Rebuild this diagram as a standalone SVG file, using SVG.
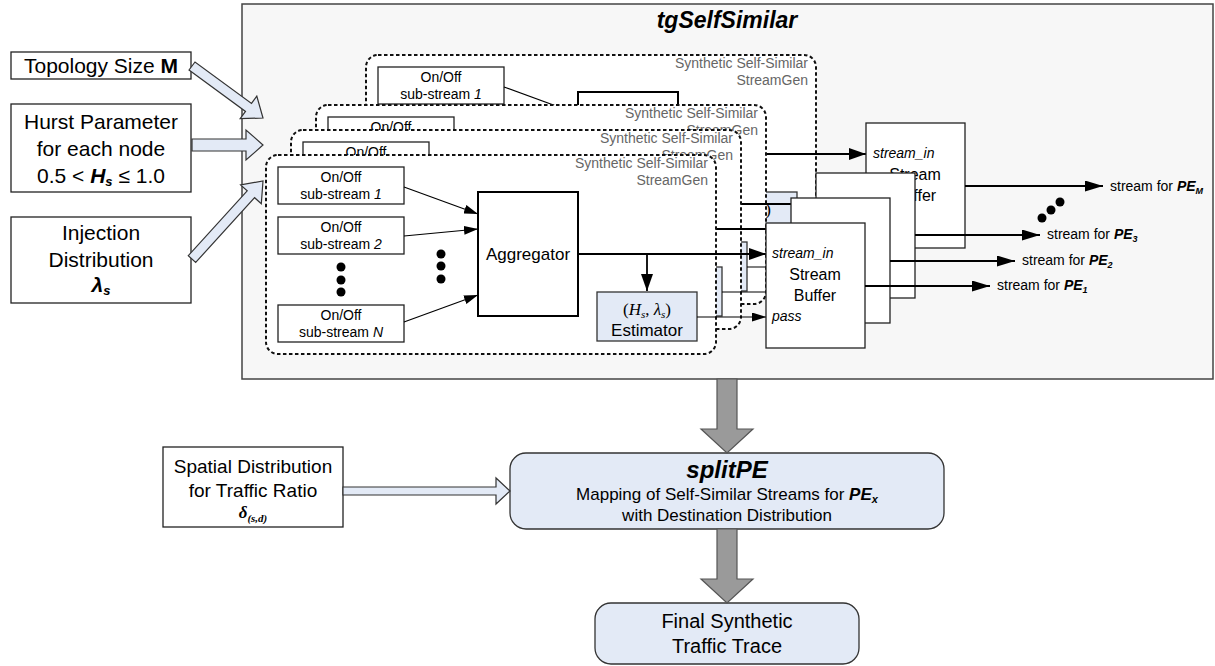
<svg xmlns="http://www.w3.org/2000/svg" width="1215" height="666" viewBox="0 0 1215 666">
<defs>
<style>
text { font-family: "Liberation Sans", Arial, sans-serif; fill:#000; }
.in { fill:#fff; stroke:#222; stroke-width:1.3; }
.big { font-size:21px; text-anchor:middle; }
.hollow { fill:#e3eaf6; stroke:#333; stroke-width:1.2; }
.gray { fill:#9a9a9a; stroke:#555; stroke-width:1.2; }
.dash { fill:#fff; stroke:#111; stroke-width:2; stroke-dasharray:3.5 2.5; }
.sg { font-size:14px; fill:#666; text-anchor:end; }
.sub { fill:#fff; stroke:#222; stroke-width:1.3; }
.st { font-size:14px; text-anchor:middle; }
.agg { fill:#fff; stroke:#000; stroke-width:2; }
.est { fill:#e3eaf6; stroke:#333; stroke-width:1.3; }
.ln { stroke:#000; stroke-width:1.2; fill:none; }
.lnb { stroke:#000; stroke-width:1.8; fill:none; }
.buf { fill:#fff; stroke:#222; stroke-width:1.3; }
.it { font-style:italic; }
.bi { font-weight:bold; font-style:italic; }
.lbl { font-size:14px; }
.node { fill:#e3eaf6; stroke:#333; stroke-width:1.3; }
.serif { font-family:"Liberation Serif", "Times New Roman", serif; }
</style>
<marker id="ahM" viewBox="0 0 14 9" markerWidth="14" markerHeight="9" refX="14" refY="4.5" orient="auto" markerUnits="userSpaceOnUse"><path d="M0,0 L14,4.5 L0,9 z" fill="#000"/></marker>
<marker id="ahL" viewBox="0 0 17 12" markerWidth="17" markerHeight="12" refX="17" refY="6" orient="auto" markerUnits="userSpaceOnUse"><path d="M0,0 L17,6 L0,12 z" fill="#000"/></marker>
<marker id="ahO" viewBox="0 0 18 11" markerWidth="18" markerHeight="11" refX="18" refY="5.5" orient="auto" markerUnits="userSpaceOnUse"><path d="M0,0 L18,5.5 L0,11 z" fill="#000"/></marker>
<g id="gen">
<rect class="dash" x="266" y="155" width="450" height="199" rx="12"/>
<text class="sg" x="708" y="168">Synthetic Self-Similar</text>
<text class="sg" x="708" y="185">StreamGen</text>
<rect class="sub" x="278" y="167" width="126" height="37"/>
<text class="st" x="341" y="182">On/Off</text>
<text class="st" x="341" y="199">sub-stream <tspan class="it">1</tspan></text>
<rect class="sub" x="278" y="217" width="126" height="37"/>
<text class="st" x="341" y="232">On/Off</text>
<text class="st" x="341" y="249">sub-stream <tspan class="it">2</tspan></text>
<circle cx="341" cy="267" r="4.5"/>
<circle cx="341" cy="280" r="4.5"/>
<circle cx="341" cy="292" r="4.5"/>
<rect class="sub" x="278" y="305" width="126" height="37"/>
<text class="st" x="341" y="320">On/Off</text>
<text class="st" x="341" y="337">sub-stream <tspan class="it">N</tspan></text>
<circle cx="441" cy="254" r="4.5"/>
<circle cx="441" cy="266" r="4.5"/>
<circle cx="441" cy="279" r="4.5"/>
<line class="ln" x1="404" y1="187" x2="478" y2="214" marker-end="url(#ahM)"/>
<line class="ln" x1="404" y1="236" x2="478" y2="229" marker-end="url(#ahM)"/>
<line class="ln" x1="404" y1="322" x2="478" y2="295" marker-end="url(#ahM)"/>
<rect class="agg" x="478" y="192" width="100" height="124"/>
<text x="528" y="260" font-size="17" text-anchor="middle">Aggregator</text>
<line class="lnb" x1="578" y1="254" x2="766" y2="254" marker-end="url(#ahL)"/>
<line class="lnb" x1="647" y1="254" x2="647" y2="291" marker-end="url(#ahL)"/>
<rect class="est" x="597" y="292" width="100" height="49"/>
<text class="serif" x="647" y="315" font-size="17" text-anchor="middle">(<tspan font-style="italic">H</tspan><tspan font-style="italic" font-size="11" dy="3">s</tspan><tspan dy="-3">, </tspan><tspan font-style="italic">λ</tspan><tspan font-style="italic" font-size="11" dy="3">s</tspan><tspan dy="-3">)</tspan></text>
<text x="647" y="336" font-size="17" text-anchor="middle">Estimator</text>
<line class="ln" x1="697" y1="317" x2="766" y2="317" marker-end="url(#ahM)"/>
</g>
</defs>

<g id="tgSelfSimilar">
<rect x="242" y="4" width="971" height="375" fill="#f7f7f7" stroke="#444" stroke-width="1.5"/>
<text x="727" y="28" font-size="23" class="bi" text-anchor="middle">tgSelfSimilar</text>
</g>

<g id="streamgen-M"><use href="#gen" transform="translate(100,-100)"/></g>
<g id="streamgen-3"><use href="#gen" transform="translate(50,-50)"/></g>
<g id="streamgen-2"><use href="#gen" transform="translate(25,-25)"/></g>
<g id="streamgen-1"><use href="#gen"/></g>

<g id="buffer-M">
<rect class="buf" x="866" y="123" width="99" height="125"/>
<text class="lbl it" x="873" y="158">stream_in</text>
<text x="915" y="180" font-size="16" text-anchor="middle">Stream</text>
<text x="915" y="201" font-size="16" text-anchor="middle">Buffer</text>
</g>
<g id="buffer-3"><rect class="buf" x="816" y="173" width="99" height="125"/></g>
<g id="buffer-2"><rect class="buf" x="791" y="198" width="99" height="125"/></g>
<g id="buffer-1">
<rect class="buf" x="766" y="223" width="99" height="125"/>
<text class="lbl it" x="772" y="258">stream_in</text>
<text x="815" y="280" font-size="16" text-anchor="middle">Stream</text>
<text x="815" y="301" font-size="16" text-anchor="middle">Buffer</text>
<text class="lbl it" x="772" y="321">pass</text>
</g>

<g id="input-topology">
<rect class="in" x="11" y="52" width="180" height="27"/>
<text class="big" x="101" y="73">Topology Size <tspan font-weight="bold">M</tspan></text>
</g>
<g id="input-hurst">
<rect class="in" x="11" y="104" width="180" height="88"/>
<text class="big" x="101" y="129">Hurst Parameter</text>
<text class="big" x="101" y="156">for each node</text>
<text class="big" x="101" y="183">0.5 &lt; <tspan class="bi">H</tspan><tspan class="bi" font-size="13" dy="3">s</tspan><tspan dy="-3"> ≤ 1.0</tspan></text>
</g>
<g id="input-injection">
<rect class="in" x="11" y="217" width="180" height="86"/>
<text class="big" x="101" y="240">Injection</text>
<text class="big" x="101" y="267">Distribution</text>
<text class="big" x="101" y="292"><tspan class="bi">λ</tspan><tspan class="bi" font-size="13" dy="3">s</tspan></text>
</g>
<g id="input-spatial">
<rect class="in" x="163" y="447" width="180" height="80"/>
<text x="253" y="473" font-size="19" text-anchor="middle">Spatial Distribution</text>
<text x="253" y="497" font-size="19" text-anchor="middle">for Traffic Ratio</text>
<text class="serif" x="253" y="518" font-size="17" text-anchor="middle"><tspan font-weight="bold" font-style="italic">δ</tspan><tspan font-weight="bold" font-style="italic" font-size="11" dy="4">(s,d)</tspan></text>
</g>

<g id="splitPE">
<rect class="node" x="510" y="453" width="434" height="76" rx="16"/>
<text x="727" y="478" font-size="24" class="bi" text-anchor="middle">splitPE</text>
<text x="727" y="500" font-size="17" text-anchor="middle">Mapping of Self-Similar Streams for <tspan class="bi">PE</tspan><tspan class="bi" font-size="11" dy="3">x</tspan></text>
<text x="727" y="521" font-size="17" text-anchor="middle">with Destination Distribution</text>
</g>
<g id="final-trace">
<rect class="node" x="595" y="603" width="264" height="61" rx="16"/>
<text x="727" y="628" font-size="20" text-anchor="middle">Final Synthetic</text>
<text x="727" y="653" font-size="20" text-anchor="middle">Traffic Trace</text>
</g>

<g id="connectors">
<polygon class="hollow" points="189,70 245.5,111.4 240.2,118.7 263,118 256.8,96.1 251.5,103.4 195,62"/>
<polygon class="hollow" points="192,139 246,139 246,130 263,145 246,160 246,151 192,151"/>
<polygon class="hollow" points="195.7,262.4 254.6,197.7 261.3,203.7 263,181 240.6,184.9 247.2,190.9 188.3,255.6"/>
<polygon class="hollow" points="343,487 496,487 496,478 510,491 496,504 496,495 343,495"/>
<polygon class="gray" points="717,379 737,379 737,429 753,429 727,453 701,429 717,429"/>
<polygon class="gray" points="717,529 737,529 737,579 753,579 727,603 701,579 717,579"/>
<line class="lnb" x1="965" y1="186" x2="1103" y2="186" marker-end="url(#ahO)"/>
<line class="lnb" x1="915" y1="235" x2="1040" y2="235" marker-end="url(#ahO)"/>
<line class="lnb" x1="890" y1="261" x2="1015" y2="261" marker-end="url(#ahO)"/>
<line class="lnb" x1="865" y1="286" x2="990" y2="286" marker-end="url(#ahO)"/>
<circle cx="1042" cy="218" r="4.5"/>
<circle cx="1051" cy="210" r="4.5"/>
<circle cx="1060" cy="202" r="4.5"/>
</g>

<g id="labels">
<text class="lbl" x="1110" y="191">stream for <tspan class="bi">PE</tspan><tspan class="bi" font-size="9" dy="3">M</tspan></text>
<text class="lbl" x="1047" y="239">stream for <tspan class="bi">PE</tspan><tspan class="bi" font-size="9" dy="3">3</tspan></text>
<text class="lbl" x="1022" y="265">stream for <tspan class="bi">PE</tspan><tspan class="bi" font-size="9" dy="3">2</tspan></text>
<text class="lbl" x="997" y="290">stream for <tspan class="bi">PE</tspan><tspan class="bi" font-size="9" dy="3">1</tspan></text>
</g>
</svg>
